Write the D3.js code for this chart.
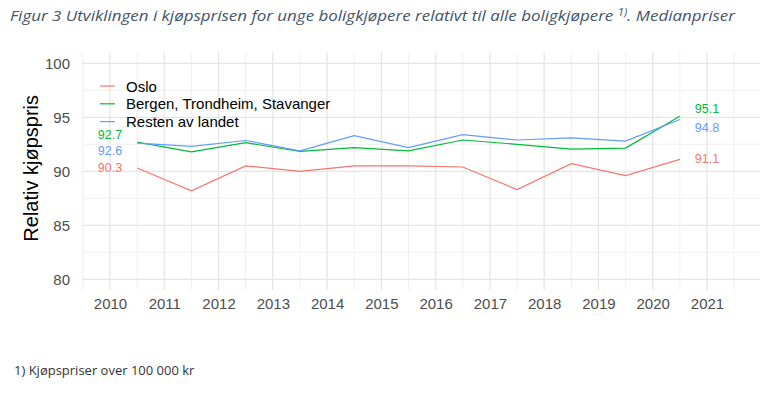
<!DOCTYPE html>
<html>
<head>
<meta charset="utf-8">
<script src="https://cdn.jsdelivr.net/npm/d3@7"></script>
<style>
  body { margin: 0; background: #ffffff; }
  svg { display: block; }
  .tick text { font-family: "Liberation Sans", Arial, sans-serif; }
</style>
</head>
<body>
<div id="chart"></div>
<script>
// data, one point per year (plotted mid-year)
const years = [2010.5, 2011.5, 2012.5, 2013.5, 2014.5, 2015.5, 2016.5, 2017.5, 2018.5, 2019.5, 2020.5];
const oslo = [90.3, 88.2, 90.5, 90.0, 90.5, 90.5, 90.4, 88.3, 90.7, 89.6, 91.1];
const bergen = [92.7, 91.8, 92.65, 91.85, 92.2, 91.9, 92.9, 92.5, 92.05, 92.15, 95.1];
const resten = [92.6, 92.3, 92.85, 91.9, 93.3, 92.2, 93.4, 92.9, 93.1, 92.8, 94.8];
const seriesNames = ['Oslo', 'Bergen, Trondheim, Stavanger', 'Resten av landet'];
const seriesColors = ['#F8766D', '#00BA38', '#619CFF'];
const xTicks = [2010, 2011, 2012, 2013, 2014, 2015, 2016, 2017, 2018, 2019, 2020, 2021];
const yTicks = [80, 85, 90, 95, 100];

const width = 776, height = 397;
const svg = d3.select('#chart').append('svg')
  .attr('width', width)
  .attr('height', height);

const x = d3.scaleLinear().domain([2009.484, 2021.977]).range([82, 760]);
const y = d3.scaleLinear().domain([79, 101]).range([290.1, 52.5]);

// title
const title = svg.append('text')
  .attr('x', 10)
  .attr('y', 21)
  .style('font-family', '"Open Sans", sans-serif')
  .style('font-style', 'italic')
  .style('font-size', '15px')
  .style('fill', '#44546A');
title.append('tspan').text('Figur 3 Utviklingen i kjøpsprisen for unge boligkjøpere relativt til alle boligkjøpere ');
title.append('tspan').attr('dy', -5).style('font-size', '10px').text('1)');
title.append('tspan').attr('dy', 5).text('. Medianpriser');
// squeeze to the width in the original
title.attr('textLength', 725).attr('lengthAdjust', 'spacingAndGlyphs');

// grid
const grid = svg.append('g');
const minorX = d3.range(2009.5, 2022, 1);
const minorY = [82.5, 87.5, 92.5, 97.5];

grid.selectAll('.minor-x').data(minorX).enter().append('line')
  .attr('x1', d => x(d)).attr('x2', d => x(d))
  .attr('y1', y.range()[1]).attr('y2', y.range()[0])
  .style('stroke', '#f0f0f0').style('stroke-width', 1);
grid.selectAll('.minor-y').data(minorY).enter().append('line')
  .attr('x1', x.range()[0]).attr('x2', x.range()[1])
  .attr('y1', d => y(d)).attr('y2', d => y(d))
  .style('stroke', '#f0f0f0').style('stroke-width', 1);
grid.selectAll('.major-x').data(xTicks).enter().append('line')
  .attr('x1', d => x(d)).attr('x2', d => x(d))
  .attr('y1', y.range()[1]).attr('y2', y.range()[0])
  .style('stroke', '#e6e6e6').style('stroke-width', 1.3);
grid.selectAll('.major-y').data(yTicks).enter().append('line')
  .attr('x1', x.range()[0]).attr('x2', x.range()[1])
  .attr('y1', d => y(d)).attr('y2', d => y(d))
  .style('stroke', '#e6e6e6').style('stroke-width', 1.3);

// axes (labels only)
const yAxis = svg.append('g')
  .attr('transform', 'translate(82,0)')
  .call(d3.axisLeft(y).tickValues(yTicks).tickSize(0).tickPadding(12));
yAxis.select('.domain').remove();
yAxis.selectAll('text').style('font-size', '15px').style('fill', '#4d4d4d');

const xAxis = svg.append('g')
  .attr('transform', 'translate(0,290)')
  .call(d3.axisBottom(x).tickValues(xTicks).tickFormat(d3.format('d')).tickSize(0).tickPadding(8));
xAxis.select('.domain').remove();
xAxis.selectAll('text').style('font-size', '15px').style('fill', '#4d4d4d');

svg.append('text')
  .attr('transform', 'translate(38,' + (y(90) - 3) + ') rotate(-90)')
  .attr('text-anchor', 'middle')
  .style('font-family', '"Liberation Sans", Arial, sans-serif')
  .style('font-size', '20px')
  .style('fill', '#000')
  .text('Relativ kjøpspris');

// lines
const allSeries = [oslo, bergen, resten];
const line = d3.line().x((d, i) => x(years[i])).y(d => y(d));
svg.selectAll('.series').data(allSeries).enter().append('path')
  .attr('d', line)
  .style('fill', 'none')
  .style('stroke', (d, i) => seriesColors[i])
  .style('stroke-width', 1.2);

// value labels at start and end, nudged apart like the original
const startNudge = [0, -7, 8];
const endNudge = [0, -7, 9];
const labelFont = '"Liberation Sans", Arial, sans-serif';
allSeries.forEach((s, i) => {
  svg.append('text')
    .attr('x', x(2010)).attr('y', y(s[0]) + startNudge[i])
    .attr('text-anchor', 'middle').attr('dominant-baseline', 'central')
    .style('font-family', labelFont).style('font-size', '12.5px')
    .style('fill', seriesColors[i])
    .text(d3.format('.1f')(s[0]));
  const last = s[s.length - 1];
  svg.append('text')
    .attr('x', x(2021)).attr('y', y(last) + endNudge[i])
    .attr('text-anchor', 'middle').attr('dominant-baseline', 'central')
    .style('font-family', labelFont).style('font-size', '12.5px')
    .style('fill', seriesColors[i])
    .text(d3.format('.1f')(last));
});

// legend
const legend = svg.append('g');
seriesNames.forEach((name, i) => {
  const ly = 86 + i * 17.8;
  legend.append('line')
    .attr('x1', 100).attr('x2', 115).attr('y1', ly).attr('y2', ly)
    .style('stroke', seriesColors[i]).style('stroke-width', 1.2);
  legend.append('text')
    .attr('x', 126).attr('y', ly)
    .attr('dominant-baseline', 'central')
    .style('font-family', labelFont).style('font-size', '15px')
    .style('fill', '#000')
    .text(name);
});

// footnote
svg.append('text')
  .attr('x', 14).attr('y', 375)
  .style('font-family', '"Open Sans", sans-serif')
  .style('font-size', '13px')
  .style('fill', '#333')
  .text('1) Kjøpspriser over 100 000 kr');
</script>
</body>
</html>
